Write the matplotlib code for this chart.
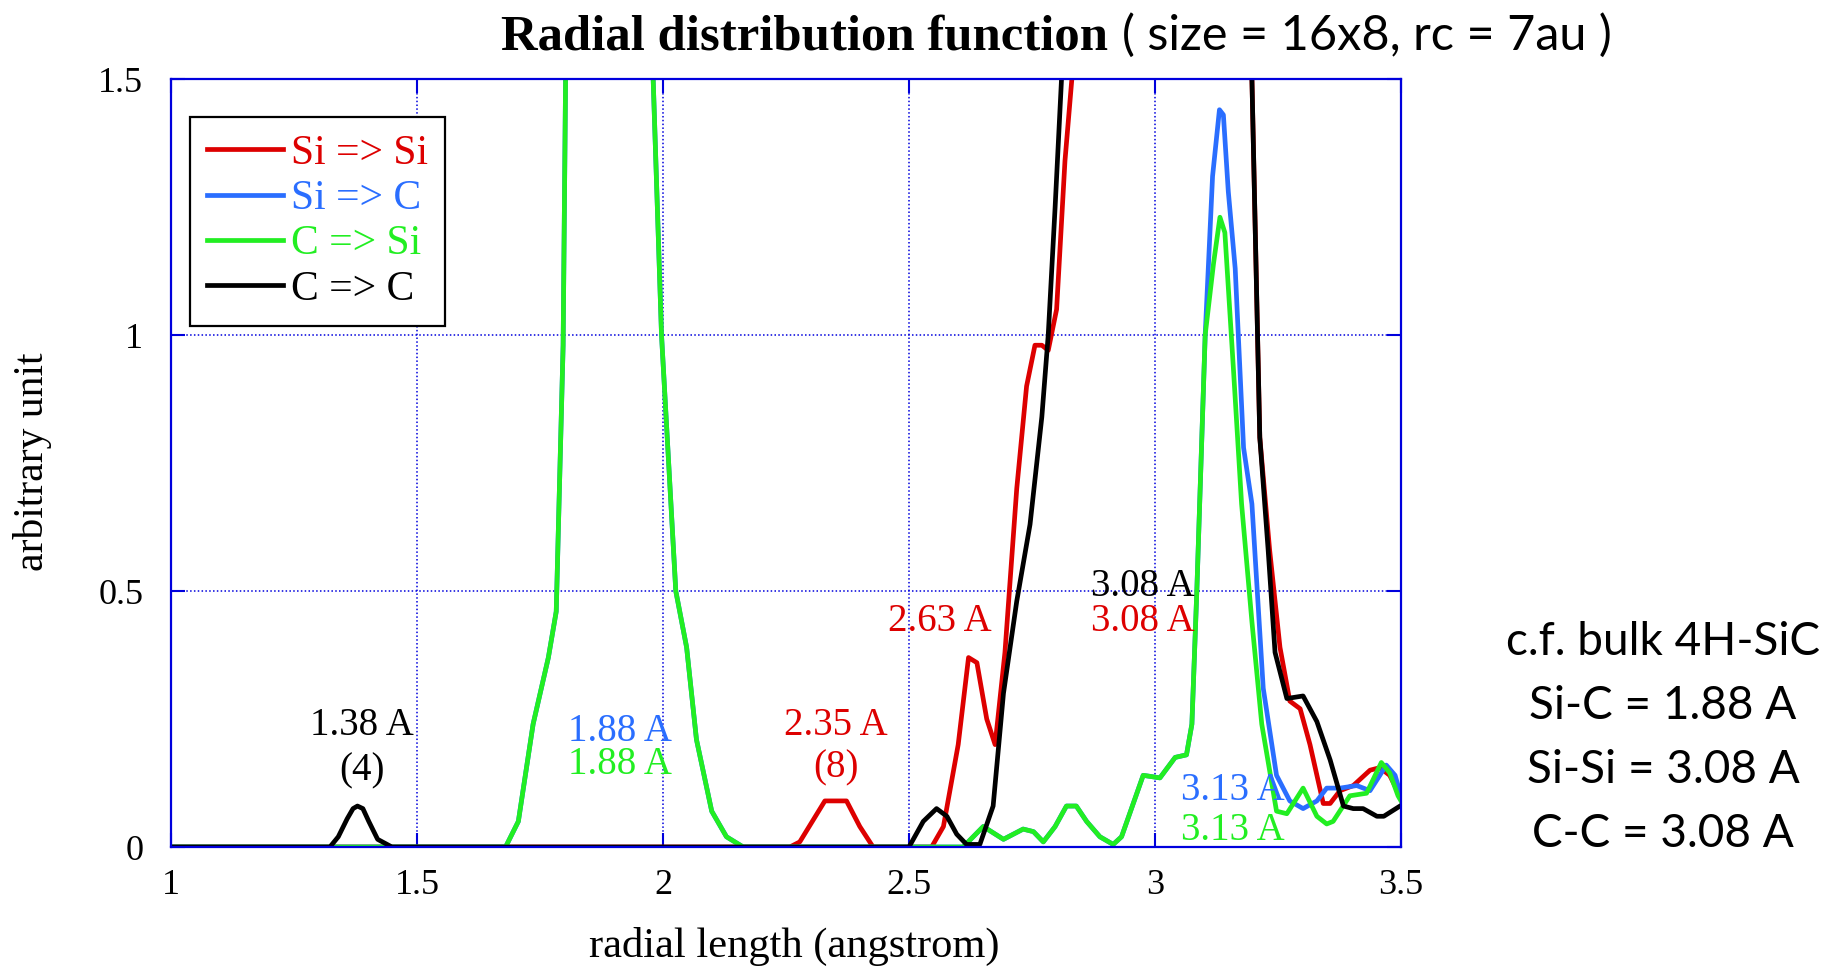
import matplotlib
matplotlib.use("Agg")
import matplotlib.pyplot as plt

# radial distribution data (r in angstrom)
r_sisi = [1.0, 2.258, 2.278, 2.329, 2.373, 2.400, 2.427, 2.546, 2.570, 2.600, 2.621, 2.638,
          2.658, 2.675, 2.695, 2.719, 2.739, 2.756, 2.770, 2.783, 2.800, 2.817, 2.831,
          2.90, 3.00, 3.08, 3.15, 3.197, 3.213, 3.233, 3.254, 3.274, 3.295, 3.315, 3.342,
          3.356, 3.376, 3.403, 3.437, 3.457, 3.477, 3.498]
g_sisi = [0.0, 0.0, 0.01, 0.09, 0.09, 0.04, 0.0, 0.0, 0.04, 0.2, 0.37, 0.36,
          0.25, 0.2, 0.38, 0.70, 0.90, 0.98, 0.98, 0.97, 1.05, 1.34, 1.5,
          3.0, 5.0, 6.0, 4.0, 1.5, 0.80, 0.58, 0.39, 0.285, 0.27, 0.2, 0.085,
          0.085, 0.11, 0.12, 0.15, 0.155, 0.14, 0.1]

r_sic = [1.0, 1.68, 1.706, 1.736, 1.767, 1.783, 1.797, 1.802, 1.84, 1.89, 1.94, 1.98,
         1.997, 2.026, 2.048, 2.068, 2.099, 2.129, 2.163, 2.61, 2.651, 2.692, 2.712,
         2.732, 2.753, 2.773, 2.797, 2.820, 2.840, 2.861, 2.888, 2.915, 2.932, 2.976,
         3.010, 3.041, 3.064, 3.075, 3.085, 3.102, 3.117, 3.131, 3.139, 3.149, 3.163,
         3.180, 3.197, 3.220, 3.247, 3.274, 3.301, 3.329, 3.349, 3.376, 3.410, 3.437,
         3.457, 3.470, 3.488, 3.5]
g_sic = [0.0, 0.0, 0.05, 0.24, 0.37, 0.46, 0.98, 1.5, 3.5, 4.5, 3.5, 1.5,
         1.0, 0.5, 0.39, 0.21, 0.07, 0.02, 0.0, 0.0, 0.04, 0.015, 0.025,
         0.035, 0.03, 0.01, 0.04, 0.08, 0.08, 0.05, 0.02, 0.005, 0.02, 0.14,
         0.135, 0.175, 0.18, 0.24, 0.5, 1.0, 1.31, 1.44, 1.43, 1.28, 1.13,
         0.78, 0.67, 0.31, 0.14, 0.09, 0.075, 0.09, 0.115, 0.115, 0.12, 0.11,
         0.14, 0.16, 0.14, 0.1]

r_csi = [1.0, 1.68, 1.706, 1.736, 1.767, 1.783, 1.797, 1.802, 1.84, 1.89, 1.94, 1.98,
         1.997, 2.026, 2.048, 2.068, 2.099, 2.129, 2.163, 2.61, 2.651, 2.692, 2.712,
         2.732, 2.753, 2.773, 2.797, 2.820, 2.840, 2.861, 2.888, 2.915, 2.932, 2.976,
         3.010, 3.041, 3.064, 3.075, 3.085, 3.102, 3.119, 3.132, 3.142, 3.159, 3.176,
         3.197, 3.217, 3.247, 3.268, 3.301, 3.329, 3.349, 3.362, 3.396, 3.430, 3.460,
         3.477, 3.494, 3.5]
g_csi = [0.0, 0.0, 0.05, 0.24, 0.37, 0.46, 0.98, 1.5, 3.5, 4.5, 3.5, 1.5,
         1.0, 0.5, 0.39, 0.21, 0.07, 0.02, 0.0, 0.0, 0.04, 0.015, 0.025,
         0.035, 0.03, 0.01, 0.04, 0.08, 0.08, 0.05, 0.02, 0.005, 0.02, 0.14,
         0.135, 0.175, 0.18, 0.24, 0.5, 1.0, 1.14, 1.23, 1.20, 0.94, 0.67,
         0.44, 0.24, 0.07, 0.065, 0.115, 0.06, 0.045, 0.05, 0.1, 0.105, 0.165,
         0.145, 0.1, 0.09]

r_cc = [1.0, 1.323, 1.340, 1.358, 1.370, 1.379, 1.390, 1.402, 1.420, 1.449, 2.50, 2.529,
        2.556, 2.577, 2.597, 2.617, 2.644, 2.671, 2.692, 2.719, 2.746, 2.770, 2.783,
        2.797, 2.810, 2.90, 3.00, 3.10, 3.197, 3.213, 3.230, 3.244, 3.268, 3.301,
        3.329, 3.356, 3.383, 3.403, 3.423, 3.451, 3.465, 3.498]
g_cc = [0.0, 0.0, 0.02, 0.055, 0.075, 0.08, 0.075, 0.05, 0.015, 0.0, 0.0, 0.05,
        0.075, 0.06, 0.025, 0.005, 0.005, 0.08, 0.30, 0.48, 0.63, 0.84, 1.0,
        1.25, 1.5, 4.0, 6.0, 4.0, 1.5, 0.8, 0.58, 0.38, 0.29, 0.295,
        0.245, 0.17, 0.08, 0.075, 0.075, 0.06, 0.06, 0.08]

series_labels = ["Si => Si", "Si => C", "C => Si", "C => C"]
colors = ["#dd0000", "#2a6eff", "#22ee22", "#000000"]

# peak annotations: (x, y, text, colour index)
notes = [
    (1.388, 0.219, "1.38 A", 3), (1.388, 0.130, "(4)", 3),
    (1.913, 0.208, "1.88 A", 1), (1.913, 0.142, "1.88 A", 2),
    (2.351, 0.219, "2.35 A", 0), (2.351, 0.135, "(8)", 0),
    (2.563, 0.421, "2.63 A", 0),
    (2.975, 0.491, "3.08 A", 3), (2.975, 0.421, "3.08 A", 0),
    (3.158, 0.092, "3.13 A", 1), (3.158, 0.014, "3.13 A", 2),
]
bulk_lines = ["c.f. bulk 4H-SiC", "Si-C = 1.88 A", "Si-Si = 3.08 A", "C-C = 3.08 A"]

axis_blue = "#0000dd"
serif = "Liberation Serif"
sans = "Lato"

W, H = 1827, 968
fig = plt.figure(figsize=(W / 100, H / 100), dpi=100)
ax = fig.add_axes([171 / W, 1 - 847 / H, 1230 / W, 768 / H])

data = [(r_sisi, g_sisi), (r_sic, g_sic), (r_csi, g_csi), (r_cc, g_cc)]
for (r, g), lab, c in zip(data, series_labels, colors):
    ax.plot(r, g, color=c, lw=3.4, label=lab)

ax.set_xlim(1, 3.5)
ax.set_ylim(0, 1.5)
ax.set_xticks([1, 1.5, 2, 2.5, 3, 3.5])
ax.set_xticklabels(["1", "1.5", "2", "2.5", "3", "3.5"])
ax.set_yticks([0, 0.5, 1, 1.5])
ax.set_yticklabels(["0", "0.5", "1", "1.5"])
ax.grid(True, color=axis_blue, linestyle=(0, (1, 1.5)), lw=1.1)
for s in ax.spines.values():
    s.set_color(axis_blue)
    s.set_linewidth(1.6)
ax.tick_params(direction="in", top=True, right=True, length=10, width=1.5,
               color=axis_blue, labelsize=26)
ax.tick_params(axis="y", pad=20)
ax.tick_params(axis="x", pad=16)
for t in ax.get_xticklabels() + ax.get_yticklabels():
    t.set_fontfamily(serif)

leg = ax.legend(loc="upper left", bbox_to_anchor=(0.0154, 0.9505), borderaxespad=0,
                prop={"family": serif, "size": 30}, labelcolor="linecolor",
                fancybox=False, framealpha=1, edgecolor="black",
                handlelength=1.82, handletextpad=0.18, borderpad=0.42,
                labelspacing=0.16)
leg.get_frame().set_linewidth(1.6)
for ln in leg.get_lines():
    ln.set_linewidth(3.4)

for x, y, txt, ci in notes:
    ax.text(x, y, txt, color=colors[ci], ha="center", va="baseline",
            family=serif, fontsize=28)

# title in two fonts, as in the original slide
fig.text(501 / W, 1 - 50 / H, "Radial distribution function", family=serif,
         weight="bold", fontsize=36.5, ha="left", va="baseline")
fig.text(1122 / W, 1 - 50 / H, "( size = 16x8, rc = 7au )", family=sans,
         fontsize=35, ha="left", va="baseline")

fig.text(794 / W, 1 - 957 / H, "radial length (angstrom)", family=serif,
         fontsize=30.6, ha="center", va="baseline")
fig.text(33 / W, 1 - 462 / H, "arbitrary unit", family=serif, fontsize=30,
         rotation=90, ha="center", va="center")

for i, line in enumerate(bulk_lines):
    fig.text(1663 / W, 1 - (655 + 64 * i) / H, line, family=sans, fontsize=33,
             ha="center", va="baseline")

fig.savefig("out.png", dpi=100)
